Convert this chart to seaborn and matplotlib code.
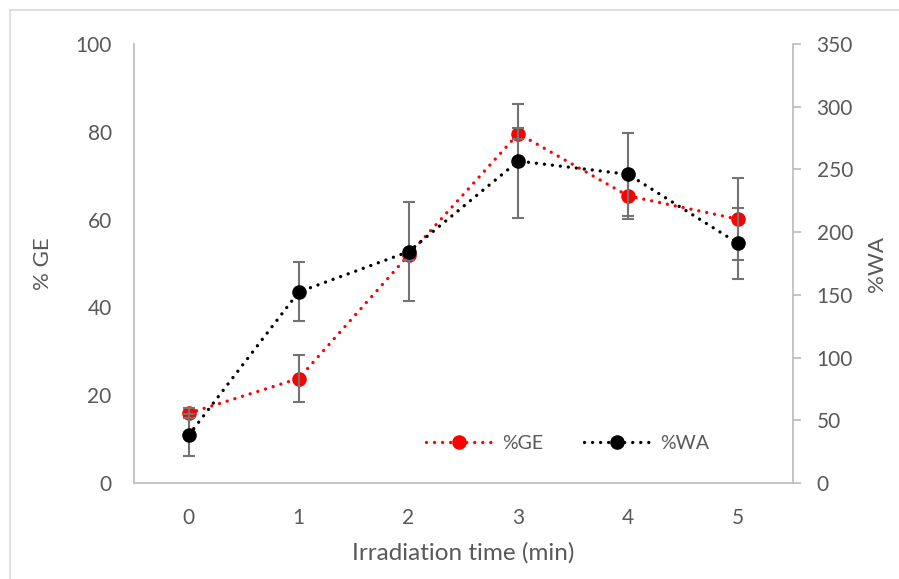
import matplotlib
matplotlib.use("Agg")
import matplotlib.pyplot as plt
from matplotlib.lines import Line2D
import seaborn as sns
import pandas as pd

# Irradiation time (min)
time_min = [0, 1, 2, 3, 4, 5]
# Grafting efficiency (%) and its standard deviation
ge_pct = [15.9, 23.8, 51.9, 79.6, 65.4, 60.1]
ge_sd = [1.2, 5.4, 1.2, 1.2, 5.3, 9.4]
# Water absorption (%) and its standard deviation
wa_pct = [38.3, 152.3, 184.4, 256.7, 246.1, 191.1]
wa_sd = [17.0, 23.5, 39.6, 45.8, 33.0, 28.2]

sns.set_style("white")
plt.rcParams["font.family"] = ["Lato", "DejaVu Sans"]

TEXT = "#595959"
AXIS = "#BFBFBF"
ERR = "#737373"
TICK_FS = 15
LEG_FS = 14

df = pd.DataFrame({"time": time_min, "GE": ge_pct, "WA": wa_pct})

fig = plt.figure(figsize=(8.99, 5.79), dpi=100)
ax = fig.add_axes([0.149, 0.1658, 0.733, 0.7582])
ax2 = ax.twinx()

dotted = (0, (0.01, 2.4))

# %GE on the primary axis
sns.lineplot(data=df, x="time", y="GE", ax=ax, color="#FF0000", marker="o",
             markersize=10.5, markeredgewidth=0, linewidth=2.4,
             linestyle=dotted, dash_capstyle="round", label="%GE",
             legend=False, zorder=2)
ax.errorbar(time_min, ge_pct, yerr=ge_sd, fmt="none", ecolor=ERR,
            elinewidth=1.5, capsize=4.5, capthick=1.5, zorder=3)

# %WA on the secondary axis
ax2.errorbar(time_min, wa_pct, yerr=wa_sd, fmt="none", ecolor=ERR,
             elinewidth=1.5, capsize=4.5, capthick=1.5, zorder=2)
sns.lineplot(data=df, x="time", y="WA", ax=ax2, color="#000000", marker="o",
             markersize=10.5, markeredgewidth=0, linewidth=2.4,
             linestyle=dotted, dash_capstyle="round", label="%WA",
             legend=False, zorder=3)

ax.set_xlim(-0.5, 5.5)
ax.set_ylim(0, 100)
ax2.set_ylim(0, 350)
ax.set_xticks(time_min)
ax.set_yticks(range(0, 101, 20))
ax2.set_yticks(range(0, 351, 50))

for name, sp in ax.spines.items():
    sp.set_visible(name in ("left", "bottom"))
    sp.set_color(AXIS)
    sp.set_linewidth(1.3)
for name, sp in ax2.spines.items():
    sp.set_visible(name == "right")
    sp.set_color(AXIS)
    sp.set_linewidth(1.3)

ax.tick_params(axis="y", length=0, pad=16, labelsize=TICK_FS, labelcolor=TEXT)
ax.tick_params(axis="x", length=0, pad=18, labelsize=TICK_FS, labelcolor=TEXT)
ax2.tick_params(axis="y", which="both", right=True, left=False,
                labelright=True, direction="out", length=6, width=1.3,
                color=AXIS, pad=11, labelsize=TICK_FS, labelcolor=TEXT)

ax.set_xlabel("Irradiation time (min)", fontsize=17.5, color=TEXT, labelpad=10)
ax.set_ylabel("% GE", fontsize=16, color=TEXT, labelpad=16)
ax2.set_ylabel("%WA", fontsize=16, color=TEXT, labelpad=10)

h1, l1 = ax.get_legend_handles_labels()
h2, l2 = ax2.get_legend_handles_labels()
ax2.legend(h1 + h2, l1 + l2, loc="center", bbox_to_anchor=(0.658, 0.091),
           ncol=2, frameon=False, fontsize=LEG_FS, handlelength=3.4,
           handletextpad=0.5, columnspacing=2.1, labelcolor=TEXT)

# chart area outline (left and top edges)
fig.add_artist(Line2D([10 / 899, 10 / 899], [0, 1 - 10 / 579],
                      transform=fig.transFigure, color="#D9D9D9", lw=1.2))
fig.add_artist(Line2D([10 / 899, 1], [1 - 10 / 579, 1 - 10 / 579],
                      transform=fig.transFigure, color="#D9D9D9", lw=1.2))

fig.savefig("out.png", dpi=100)
